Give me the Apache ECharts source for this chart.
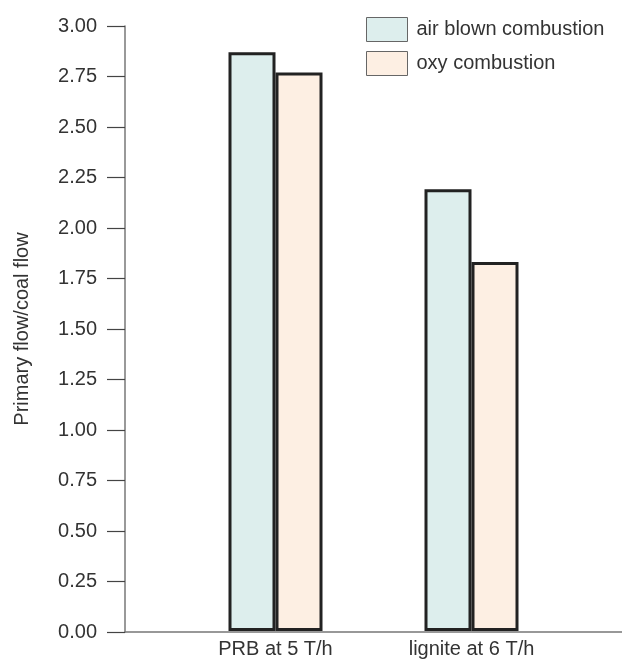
<!DOCTYPE html>
<html>
<head>
<meta charset="utf-8">
<script src="https://cdn.jsdelivr.net/npm/echarts@6/dist/echarts.min.js"></script>
<style>html,body{margin:0;padding:0;background:#fff}#c{width:622px;height:659px}</style>
</head>
<body>
<div id="c"></div>
<script>
const categories = ['PRB at 5 T/h', 'lignite at 6 T/h'];
const airBlown = [2.87, 2.19];
const oxy = [2.77, 1.83];
const seriesNames = ['air blown combustion', 'oxy combustion'];
const yTicks = [0, 0.25, 0.5, 0.75, 1, 1.25, 1.5, 1.75, 2, 2.25, 2.5, 2.75, 3];

const FONT = 'Liberation Sans';
const chart = echarts.init(document.getElementById('c'), null, {renderer: 'canvas'});
chart.setOption({
  animation: false,
  textStyle: {fontFamily: FONT},
  grid: [
    {left: 125, right: 0, top: 26, bottom: 27},
    {left: 177.5, width: 392, top: 26, bottom: 27}
  ],
  legend: {
    orient: 'vertical', left: 361, top: 12, icon: 'rect',
    itemWidth: 41, itemHeight: 24, itemGap: 9,
    textStyle: {fontFamily: FONT, fontSize: 20, color: '#333', padding: [0, 0, 0, 4]},
    itemStyle: {borderColor: '#666', borderWidth: 1},
    data: seriesNames
  },
  xAxis: [
    {gridIndex: 0, type: 'value', min: 0, max: 1,
     axisLine: {show: true, lineStyle: {color: '#777', width: 1.5}},
     axisTick: {show: false}, axisLabel: {show: false}, splitLine: {show: false}},
    {gridIndex: 1, type: 'category', data: categories,
     axisLine: {show: false}, axisTick: {show: false},
     axisLabel: {fontFamily: FONT, fontSize: 20, color: '#333', margin: 8}}
  ],
  yAxis: [
    {gridIndex: 0, type: 'value', min: 0, max: 3, interval: 0.25,
     name: 'Primary flow/coal flow', nameLocation: 'middle', nameGap: 93,
     nameTextStyle: {fontFamily: FONT, fontSize: 20, color: '#333'},
     axisLine: {show: true, lineStyle: {color: '#777', width: 1.5}},
     axisTick: {show: true, length: 18, lineStyle: {color: '#444', width: 1.2}},
     axisLabel: {fontFamily: FONT, fontSize: 20, color: '#333', margin: 28,
       formatter: v => v.toFixed(2)},
     splitLine: {show: false}},
    {gridIndex: 1, type: 'value', min: 0, max: 3, show: false}
  ],
  series: [
    {name: seriesNames[0], type: 'bar', xAxisIndex: 1, yAxisIndex: 1,
     data: airBlown, barWidth: 47, barGap: '0%',
     itemStyle: {color: '#ddeeed', borderColor: '#222', borderWidth: 3}},
    {name: seriesNames[1], type: 'bar', xAxisIndex: 1, yAxisIndex: 1,
     data: oxy, barWidth: 47, barGap: '0%',
     itemStyle: {color: '#fdefe3', borderColor: '#222', borderWidth: 3}}
  ]
});
</script>
</body>
</html>
